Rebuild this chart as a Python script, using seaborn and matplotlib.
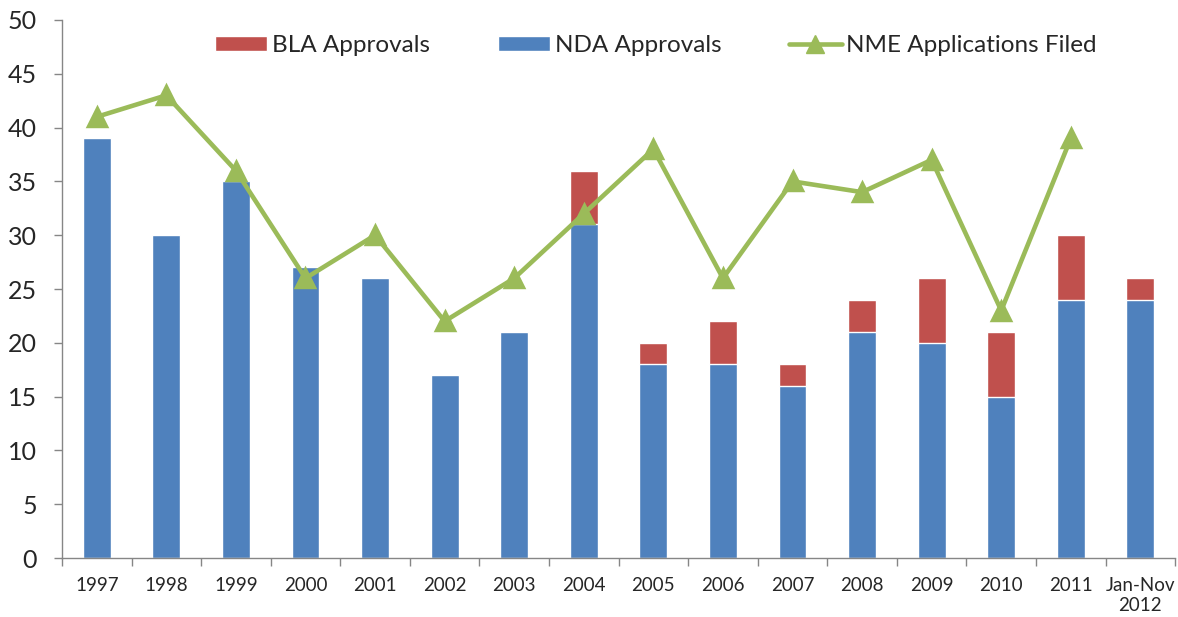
import numpy as np
import pandas as pd
import matplotlib
matplotlib.use("Agg")
import matplotlib.pyplot as plt
import seaborn as sns
from matplotlib.patches import Patch
from matplotlib.lines import Line2D

# donnees
years = ['1997', '1998', '1999', '2000', '2001', '2002', '2003', '2004',
         '2005', '2006', '2007', '2008', '2009', '2010', '2011', 'Jan-Nov\n2012']
nda = [39, 30, 35, 27, 26, 17, 21, 31, 18, 18, 16, 21, 20, 15, 24, 24]
bla = [0, 0, 0, 0, 0, 0, 0, 5, 2, 4, 2, 3, 6, 6, 6, 2]
nme = [41, 43, 36, 26, 30, 22, 26, 32, 38, 26, 35, 34, 37, 23, 39, np.nan]

blue = '#4F81BD'
red = '#C0504D'
green = '#9BBB59'
axis_grey = '#868686'

sns.set_style('white')
plt.rcParams['font.family'] = ['Lato', 'DejaVu Sans']

df = pd.DataFrame({'year': years, 'NDA': nda, 'BLA': bla, 'NME': nme})
df['total'] = df['NDA'] + df['BLA']

fig = plt.figure(figsize=(11.78, 6.17), dpi=100)
ax = fig.add_axes([0.0526, 0.0956, 0.945, 0.872])

# barres empilees : total en rouge puis NDA en bleu par dessus
sns.barplot(data=df, x='year', y='total', order=years, color=red, width=0.4,
            saturation=1, ax=ax)
sns.barplot(data=df, x='year', y='NDA', order=years, color=blue, width=0.4,
            saturation=1, ax=ax)
sns.pointplot(data=df.dropna(subset=['NME']), x='year', y='NME', order=years,
              color=green, markers='^', linestyles='-', linewidth=3.3,
              markersize=13, ax=ax)

ax.set_ylim(0, 50)
ax.set_yticks(np.arange(0, 51, 5))
ax.set_xlim(-0.5, len(years) - 0.5)
ax.set_xlabel('')
ax.set_ylabel('')

# graduations entre les categories comme dans excel
ax.set_xticks(np.arange(len(years)))
ax.set_xticklabels(years, fontsize=13.5, linespacing=1.2)
ax.set_xticks(np.arange(-0.5, len(years), 1), minor=True)
ax.tick_params(axis='x', which='major', length=0, pad=14, bottom=True)
ax.tick_params(axis='x', which='minor', length=6, color=axis_grey, width=1,
               bottom=True, direction='out')
ax.tick_params(axis='y', labelsize=18, length=6, color=axis_grey, width=1,
               pad=12, left=True, direction='out')

for s in ['top', 'right']:
    ax.spines[s].set_visible(False)
for s in ['left', 'bottom']:
    ax.spines[s].set_color(axis_grey)
    ax.spines[s].set_linewidth(1)

handles = [Patch(facecolor=red, label='BLA Approvals'),
           Patch(facecolor=blue, label='NDA Approvals'),
           Line2D([0], [0], color=green, lw=3.3, marker='^', markersize=13,
                  label='NME Applications Filed')]
fig.legend(handles=handles, ncol=3, frameon=False, fontsize=17.5,
           loc='center left', bbox_to_anchor=(215 / 1178, 1 - 45.5 / 617),
           bbox_transform=fig.transFigure, borderpad=0, borderaxespad=0,
           handlelength=2.14, handleheight=0.62, columnspacing=2.8,
           handletextpad=0.2)

fig.savefig('out.png', dpi=100)
